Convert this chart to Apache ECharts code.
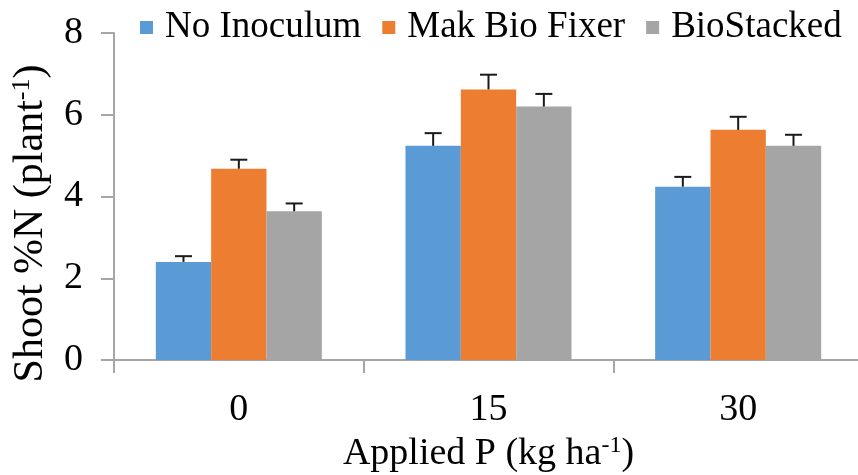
<!DOCTYPE html>
<html>
<head>
<meta charset="utf-8">
<script src="https://cdn.jsdelivr.net/npm/echarts@6/dist/echarts.min.js"></script>
<style>
html,body{margin:0;padding:0;background:#fff;}
#c{width:858px;height:475px;}
</style>
</head>
<body>
<div id="c"></div>
<script>
const categories = ['0', '15', '30'];
const seriesNames = ['No Inoculum', 'Mak Bio Fixer', 'BioStacked'];
const noInoculum = [2.40, 5.24, 4.24];
const makBioFixer = [4.68, 6.62, 5.63];
const bioStacked = [3.64, 6.20, 5.24];
const noInoculumErr = [0.14, 0.31, 0.24];
const makBioFixerErr = [0.22, 0.36, 0.32];
const bioStackedErr = [0.19, 0.31, 0.27];
const yTicks = [0, 2, 4, 6, 8];

const colors = ['#5B9BD5', '#ED7D31', '#A5A5A5'];
const values = [noInoculum, makBioFixer, bioStacked];
const errs = [noInoculumErr, makBioFixerErr, bioStackedErr];
const FONT = '"Liberation Serif", "Times New Roman", serif';
const GAP = 0.335;

const chart = echarts.init(document.getElementById('c'), null, {renderer: 'canvas'});

const barSeries = seriesNames.map((n, i) => ({
  name: n,
  type: 'bar',
  data: values[i],
  barGap: '0%',
  barCategoryGap: (GAP * 100) + '%',
  itemStyle: {color: colors[i]},
  z: 2
}));

const errSeries = seriesNames.map((n, i) => ({
  name: n + ' err',
  type: 'custom',
  data: categories.map((c, j) => [j, values[i][j], values[i][j] + errs[i][j]]),
  z: 5,
  silent: true,
  renderItem: function (params, api) {
    const catW = api.size([1, 0])[0];
    const bw = catW * (1 - GAP) / 3;
    const base = api.coord([api.value(0), api.value(1)]);
    const top = api.coord([api.value(0), api.value(2)]);
    const x = base[0] + (i - 1) * bw;
    const half = 8.5;
    return {
      type: 'group',
      children: [
        {type: 'line', shape: {x1: x, y1: base[1], x2: x, y2: top[1]}, style: {stroke: '#1a1a1a', lineWidth: 2}},
        {type: 'line', shape: {x1: x - half, y1: top[1], x2: x + half, y2: top[1]}, style: {stroke: '#1a1a1a', lineWidth: 2}}
      ]
    };
  },
  encode: {x: 0, y: [1, 2]}
}));

chart.setOption({
  animation: false,
  backgroundColor: '#fff',
  legend: {
    data: seriesNames,
    left: 140,
    top: 9,
    width: 718,
    padding: 0,
    icon: 'rect',
    itemWidth: 13,
    itemHeight: 13,
    itemGap: 21,
    textStyle: {fontFamily: FONT, fontSize: 37, color: '#000', padding: [0, 0, 0, 7]}
  },
  grid: {left: 114, top: 33, width: 749, bottom: 115, containLabel: false, outerBoundsMode: 'none'},
  xAxis: {
    type: 'category',
    data: categories,
    axisLine: {lineStyle: {color: '#A6A6A6', width: 2}},
    axisTick: {show: true, length: 13, lineStyle: {color: '#A6A6A6', width: 2}},
    axisLabel: {fontFamily: FONT, fontSize: 38, color: '#000', margin: 31},
    name: '{a|Applied P (kg ha}{s|-1}{a|)}',
    nameLocation: 'middle',
    nameGap: 56,
    nameTextStyle: {
      rich: {
        a: {fontFamily: FONT, fontSize: 38, color: '#000', lineHeight: 40},
        s: {fontFamily: FONT, fontSize: 24, color: '#000', lineHeight: 40, verticalAlign: 'top', padding: [0, 0, 12, 0]}
      }
    }
  },
  yAxis: {
    type: 'value',
    min: 0,
    max: 8,
    interval: 2,
    splitLine: {show: false},
    axisLine: {show: true, lineStyle: {color: '#A6A6A6', width: 2}},
    axisTick: {show: true, length: 13, lineStyle: {color: '#A6A6A6', width: 2}},
    axisLabel: {fontFamily: FONT, fontSize: 38, color: '#000', margin: 31,
      formatter: v => yTicks.includes(v) ? String(v) : ''},
    name: '{a|Shoot %N (plant}{s|-1}{a|)}',
    nameLocation: 'middle',
    nameRotate: 90,
    nameGap: 61,
    nameTextStyle: {
      padding: [0, 54, 0, 0],
      rich: {
        a: {fontFamily: FONT, fontSize: 42, color: '#000', lineHeight: 44},
        s: {fontFamily: FONT, fontSize: 26, color: '#000', lineHeight: 44, verticalAlign: 'top', padding: [0, 0, 13, 0]}
      }
    }
  },
  series: barSeries.concat(errSeries)
});
</script>
</body>
</html>
